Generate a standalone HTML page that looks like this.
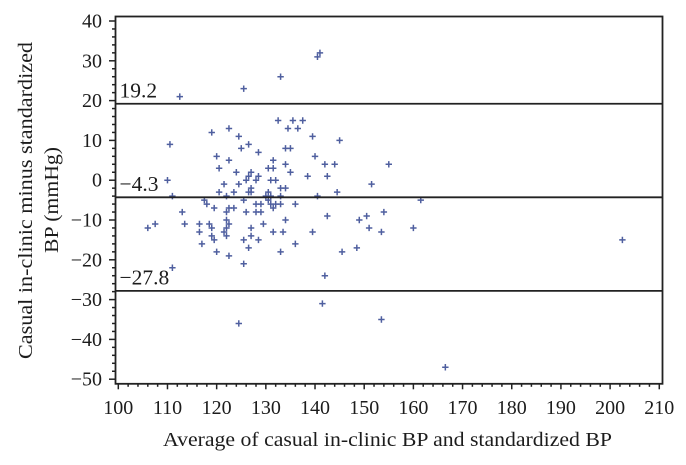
<!DOCTYPE html>
<html lang="en">
<head>
<meta charset="utf-8">
<title>Bland-Altman plot of casual in-clinic BP and standardized BP</title>
<style>
html,body{margin:0;padding:0;background:#fff;width:686px;height:465px;overflow:hidden}
svg{display:block}
text{font-family:"Liberation Serif",serif;fill:#1c1c1c}
</style>
</head>
<body>
<svg id="chart" xmlns="http://www.w3.org/2000/svg" width="686" height="465" viewBox="0 0 686 465">
  <rect x="0" y="0" width="686" height="465" fill="#ffffff"/>
  <g id="points"></g>
  <g id="ref-lines"></g>
  <rect x="115.5" y="16.5" width="547" height="367.3" fill="none" stroke="#222" stroke-width="1.8"/>
  <g id="x-axis"></g>
  <g id="y-axis"></g>
  <text x="163" y="446" font-size="20" textLength="449" lengthAdjust="spacingAndGlyphs">Average of casual in-clinic BP and standardized BP</text>
  <text transform="translate(32,359) rotate(-90)" font-size="20" textLength="317" lengthAdjust="spacingAndGlyphs">Casual in-clinic minus standardized</text>
  <text transform="translate(58,253) rotate(-90)" font-size="20" textLength="106" lengthAdjust="spacingAndGlyphs">BP (mmHg)</text>
</svg>
<script>
const xTicks = [100,110,120,130,140,150,160,170,180,190,200,210];
const yTicks = [40,30,20,10,0,-10,-20,-30,-40,-50];
const refValues = [19.2,-4.3,-27.8];
const refLabels = ["19.2","\u22124.3","\u221227.8"];
const xValues = [
112.5,125.5,133,140.5,141,132.5,135.5,137.5,134.5,136.5,139.5,119,122.5,124.5,125,126.5,128.5,134,135,140,
120,122.5,131.5,134,130.5,131.5,120.5,124,127,135,126.5,126,128.5,128,138.5,131,132,121.5,124.5,133,
134,127,127,120.5,123.5,126.5,130.5,130,131,122,133,140.5,117.5,118,119.5,125.5,130.5,131,132,133,
136,128,129,131.5,122.5,123.5,122,126,128,129,134,122,129.5,122.5,118.5,116.5,119,122,127,121.5,
116.5,131.5,133.5,139.5,119,122,127,119.5,125.5,128.5,117,136,126.5,120,133,122.5,125.5,106,107.5,113,
113.5,111,110.5,110,111,145,142,144,155,151.5,142.5,144.5,161.5,142.5,154,150.5,149,151,153.5,160,
148.5,142,141.5,153.5,124.5,166.5,202.5,145.5
];
const yValues = [
21,23,26,31,32,15,15,15,13,13,11,12,13,11,8,9,7,8,8,6,
6,5,5,4,3,3,3,2,2,2,1,0,1,0,1,0,0,-1,-1,-2,
-2,-2,-3,-3,-3,-3,-3,-4,-4,-4,-4,-4,-5,-6,-7,-5,-5,-6,-6,-6,
-6,-6,-6,-7,-7,-7,-8,-8,-8,-8,-10,-10,-11,-11,-11,-11,-12,-12,-12,-13,
-13,-13,-13,-13,-14,-14,-14,-15,-15,-15,-16,-16,-17,-18,-18,-19,-21,-12,-11,-8,
-11,-22,9,0,-4,10,4,4,4,-1,1,-3,-5,-9,-8,-9,-10,-12,-13,-12,
-17,-24,-31,-35,-36,-47,-15,-18
];

const NS = "http://www.w3.org/2000/svg";
const sx = v => 118.3 + (v - 100) * 4.918;
const sy = v => 21 + (40 - v) * 3.98;
const FRAME_LEFT = 115.5, FRAME_RIGHT = 662.7, FRAME_BOTTOM = 383.8;
const AXIS = "#222";

function make(tag, attrs, parent, txt) {
  const el = document.createElementNS(NS, tag);
  for (const k in attrs) el.setAttribute(k, attrs[k]);
  if (txt !== undefined) el.textContent = txt;
  parent.appendChild(el);
  return el;
}

const xAxis = document.getElementById("x-axis");
const yAxis = document.getElementById("y-axis");
const pointsGroup = document.getElementById("points");
const refGroup = document.getElementById("ref-lines");

// x axis ticks
const xMin = xTicks[0], xMax = xTicks[xTicks.length - 1];
for (let v = xMin; v <= xMax; v += 2) {
  const major = (v - xMin) % 10 === 0;
  const t = make("line", {x1: sx(v), x2: sx(v), y1: FRAME_BOTTOM, y2: FRAME_BOTTOM + (major ? 5.5 : 3), stroke: AXIS, "stroke-width": 1.5}, xAxis);
  
  
}
xTicks.forEach(v => {
  const t = make("text", {x: sx(v), y: 414, "font-size": 20, "text-anchor": "middle"}, xAxis, String(v));
  
  
});

// y axis ticks
const yMax = yTicks[0], yMin = yTicks[yTicks.length - 1];
for (let v = yMin; v <= yMax; v += 2) {
  const major = (v - yMin) % 10 === 0;
  const t = make("line", {x1: FRAME_LEFT - (major ? 6.5 : 3.5), x2: FRAME_LEFT, y1: sy(v), y2: sy(v), stroke: AXIS, "stroke-width": 1.5}, yAxis);
  
  
}
yTicks.forEach(v => {
  const label = v < 0 ? "\u2212" + Math.abs(v) : String(v);
  const t = make("text", {x: 102, y: sy(v) + 6.5, "font-size": 20, "text-anchor": "end"}, yAxis, label);
  
  
});

// reference lines and their labels
refValues.forEach((v, i) => {
  const l = make("line", {x1: FRAME_LEFT, x2: FRAME_RIGHT, y1: sy(v), y2: sy(v), stroke: AXIS, "stroke-width": 1.8}, refGroup);
  
  
  const t = make("text", {x: 119.5, y: sy(v) - 6.5, "font-size": 21.5}, refGroup, refLabels[i]);
  
  
});

// scatter points drawn as plus markers
xValues.forEach((xv, i) => {
  const px = sx(xv), py = sy(yValues[i]), r = 3.2;
  const m = make("path", {d: "M" + (px - r) + " " + py + "H" + (px + r) + "M" + px + " " + (py - r) + "V" + (py + r), stroke: "#4f5f9f", "stroke-width": 1.5, fill: "none"}, pointsGroup);
  
  
});
</script>
</body>
</html>
